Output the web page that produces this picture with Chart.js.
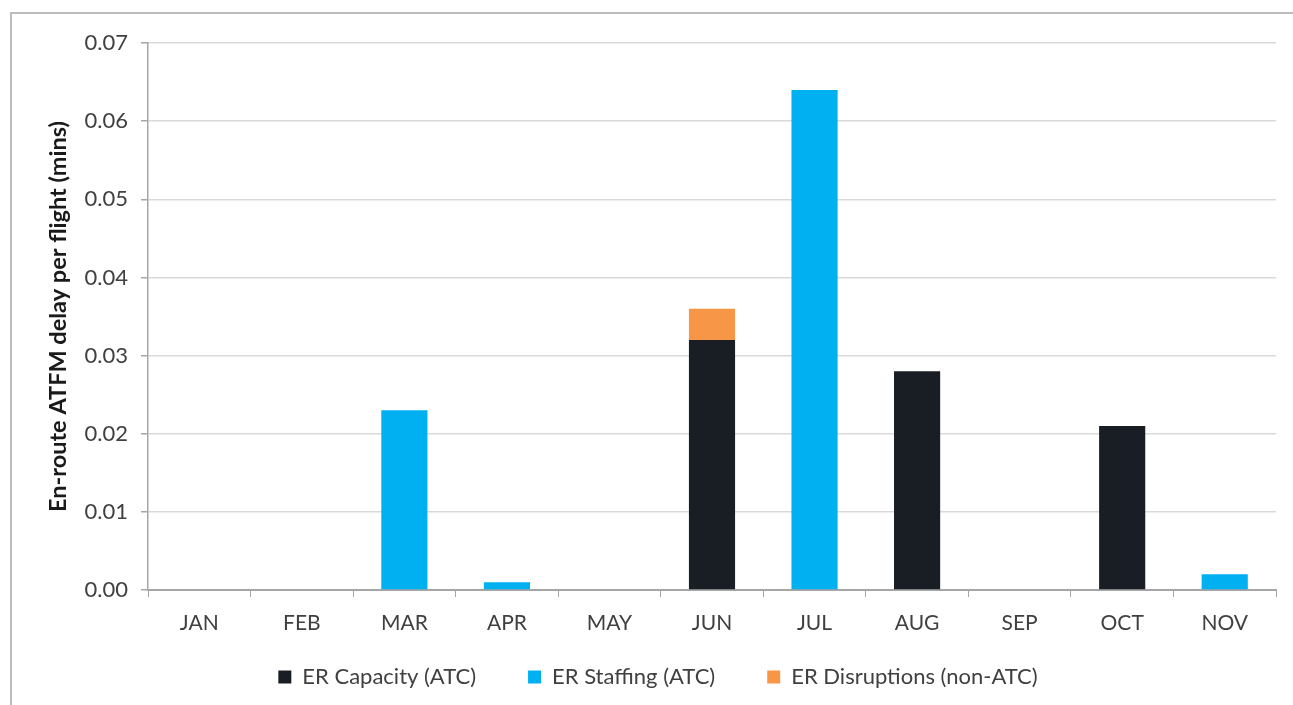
<!DOCTYPE html>
<html>
<head>
<meta charset="utf-8">
<script src="https://cdn.jsdelivr.net/npm/chart.js@4.4.1/dist/chart.umd.min.js"></script>
<style>
  html, body { margin: 0; padding: 0; background: #fff; overflow: hidden; }
  #wrap { position: relative; width: 1293px; height: 705px; }
  #frame { position: absolute; left: 10px; top: 12px; width: 1300px; height: 720px;
           border: 2px solid #bcbcbc; box-sizing: border-box; }
  canvas { position: absolute; left: 0; top: 0; }
</style>
</head>
<body>
<div id="wrap">
  <div id="frame"></div>
  <canvas id="delayChart" width="1293" height="705"></canvas>
</div>
<script>
const months = ["JAN", "FEB", "MAR", "APR", "MAY", "JUN", "JUL", "AUG", "SEP", "OCT", "NOV"];
const capacityAtc = [0, 0, 0, 0, 0, 0.032, 0, 0.028, 0, 0.021, 0];
const staffingAtc = [0, 0, 0.023, 0.001, 0, 0, 0.064, 0, 0, 0, 0.002];
const disruptionsNonAtc = [0, 0, 0, 0, 0, 0.004, 0, 0, 0, 0, 0];
const yTicks = [0, 0.01, 0.02, 0.03, 0.04, 0.05, 0.06, 0.07];

const FONT = "Lato";
const TEXT = '#404040';
const AXIS = '#a6a6a6';

Chart.defaults.font.family = FONT;
Chart.defaults.color = TEXT;

// legend padding also sets the gap between items, so keep the box short
// and stretch its top upwards after layout
const legendPlacement = {
    id: 'legendPlacement',
    beforeLayout(chart) {
        const lg = chart.legend;
        if (lg && !lg._fixedFit) {
            const fit = lg.fit.bind(lg);
            lg.fit = () => { fit(); lg.height = 56; };
            lg._fixedFit = true;
        }
    },
    afterLayout(chart) {
        const lg = chart.legend;
        if (lg) { lg.top -= 28; }
    }
};

const ctx = document.getElementById('delayChart').getContext('2d');

new Chart(ctx, {
    type: 'bar',
    data: {
        labels: months,
        datasets: [
            { label: 'ER Capacity (ATC)', data: capacityAtc, backgroundColor: '#191e25' },
            { label: 'ER Staffing (ATC)', data: staffingAtc, backgroundColor: '#00b0f0' },
            { label: 'ER Disruptions (non-ATC)', data: disruptionsNonAtc, backgroundColor: '#f79646' }
        ]
    },
    plugins: [legendPlacement],
    options: {
        responsive: false,
        animation: false,
        layout: { padding: { left: 40, right: 17, top: 43, bottom: 7 } },
        datasets: { bar: { barPercentage: 0.45, categoryPercentage: 1 } },
        plugins: {
            tooltip: { enabled: false },
            legend: {
                position: 'bottom',
                labels: {
                    boxWidth: 13,
                    boxHeight: 13,
                    padding: 52,
                    color: TEXT,
                    font: { size: 22 }
                }
            }
        },
        scales: {
            x: {
                stacked: true,
                afterFit: (s) => { s.height = 52; },
                grid: { offset: true, drawOnChartArea: false, tickLength: 7, tickColor: AXIS },
                border: { color: AXIS, width: 2 },
                ticks: { padding: 14, color: TEXT, font: { size: 21 } }
            },
            y: {
                stacked: true,
                min: 0,
                max: 0.07,
                afterFit: (s) => { s.width = 108; },
                afterBuildTicks: (s) => { s.ticks = yTicks.map(v => ({ value: v })); },
                grid: { color: '#d9d9d9', lineWidth: 1.5, tickLength: 7, tickColor: AXIS },
                border: { color: AXIS, width: 1.5 },
                ticks: {
                    padding: 13,
                    color: TEXT,
                    font: { size: 22 },
                    callback: (v) => v.toFixed(2)
                },
                title: {
                    display: true,
                    text: 'En-route ATFM delay per flight (mins)',
                    color: '#1a1a1a',
                    font: { size: 23.5, weight: 'bold' },
                    padding: { top: 4, bottom: 0 }
                }
            }
        }
    }
});
</script>
</body>
</html>
